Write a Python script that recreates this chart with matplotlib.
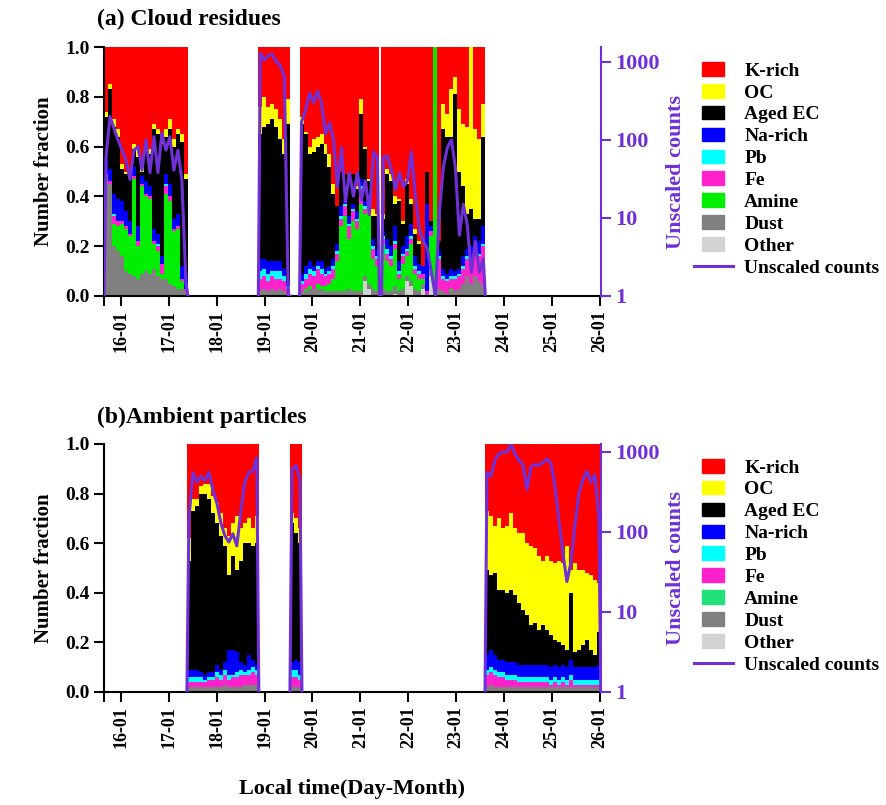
import numpy as np
import matplotlib
matplotlib.use('Agg')
import matplotlib.pyplot as plt
import matplotlib.patches as mpatches
from matplotlib.lines import Line2D
from matplotlib.legend_handler import HandlerPatch

plt.rcParams['font.family'] = ['Liberation Serif', 'DejaVu Serif']
plt.rcParams['font.weight'] = 'bold'
plt.rcParams['axes.labelweight'] = 'bold'

# species, stacked bottom -> top is the reverse of this list
species = ['K-rich', 'OC', 'Aged EC', 'Na-rich', 'Pb', 'Fe', 'Amine', 'Dust', 'Other']
colors_a = ['#FF0000', '#FFFF00', '#000000', '#0000FF', '#00FFFF', '#FF22CC', '#00EE00', '#808080', '#D3D3D3']
colors_b = ['#FF0000', '#FFFF00', '#000000', '#0000FF', '#00FFFF', '#FF22CC', '#22E07A', '#808080', '#D3D3D3']
purple = '#7030D8'

day_ticks = [16, 17, 18, 19, 20, 21, 22, 23, 24, 25, 26]
day_labels = ['16-01', '17-01', '18-01', '19-01', '20-01', '21-01', '22-01', '23-01', '24-01', '25-01', '26-01']
x_start, x_end = 15.65, 26.02
step = 1 / 12  # 2-hour bins (days)

# ---------------- (a) Cloud residues: 4 sampling segments ----------------
a_seg_start = [15.65, 18.87, 19.73, 21.44]
a_krich = [
    [0.26, 0.15, 0.29, 0.33, 0.47, 0.50, 0.50, 0.39, 0.41, 0.47, 0.39, 0.41, 0.31, 0.33, 0.37, 0.33, 0.29, 0.37, 0.33, 0.35, 0.51],
    [0.24, 0.20, 0.24, 0.23, 0.25, 0.29, 0.37, 0.21],
    [0.28, 0.34, 0.40, 0.37, 0.36, 0.35, 0.39, 0.43, 0.55, 0.64, 0.50, 0.51, 0.53, 0.51, 0.56, 0.21, 0.40, 0.53, 0.65, 0.67],
    [0.67, 0.49, 0.51, 0.60, 0.61, 0.70, 0.53, 0.61, 0.73, 0.78, 0.88, 0.50, 0.70, 0.00, 0.78, 0.23, 0.27, 0.17, 0.12, 0.25, 0.31, 0.32, 0.00, 0.33, 0.37, 0.23],
]
a_oc = [
    [0.02, 0.02, 0.03, 0.03, 0.02, 0.01, 0.02, 0.02, 0.03, 0.03, 0.02, 0.02, 0.02, 0.02, 0.02, 0.03, 0.04, 0.03, 0.02, 0.03, 0.02],
    [0.11, 0.12, 0.07, 0.06, 0.07, 0.08, 0.06, 0.10],
    [0.03, 0.01, 0.03, 0.05, 0.04, 0.04, 0.04, 0.05, 0.04, 0.00, 0.00, 0.00, 0.01, 0.00, 0.01, 0.06, 0.01, 0.01, 0.03, 0.01],
    [0.02, 0.02, 0.03, 0.03, 0.01, 0.01, 0.02, 0.02, 0.02, 0.01, 0.00, 0.00, 0.00, 0.00, 0.00, 0.10, 0.09, 0.19, 0.07, 0.25, 0.25, 0.35, 0.65, 0.36, 0.32, 0.13],
]
a_ec = [
    [0.17, 0.32, 0.27, 0.25, 0.13, 0.15, 0.18, 0.07, 0.28, 0.02, 0.13, 0.13, 0.40, 0.40, 0.45, 0.15, 0.22, 0.29, 0.32, 0.50, 0.38],
    [0.50, 0.53, 0.55, 0.57, 0.54, 0.49, 0.46, 0.63],
    [0.60, 0.53, 0.43, 0.46, 0.46, 0.47, 0.46, 0.40, 0.26, 0.15, 0.14, 0.10, 0.14, 0.12, 0.09, 0.26, 0.21, 0.05, 0.09, 0.13],
    [0.05, 0.26, 0.26, 0.09, 0.24, 0.09, 0.21, 0.08, 0.09, 0.08, 0.00, 0.13, 0.02, 0.00, 0.04, 0.56, 0.55, 0.53, 0.71, 0.39, 0.28, 0.14, 0.15, 0.07, 0.09, 0.36],
]
a_na = [
    [0.06, 0.05, 0.08, 0.09, 0.08, 0.06, 0.05, 0.04, 0.06, 0.03, 0.05, 0.04, 0.05, 0.04, 0.03, 0.04, 0.05, 0.04, 0.05, 0.05, 0.06],
    [0.05, 0.04, 0.05, 0.04, 0.04, 0.04, 0.03, 0.02],
    [0.03, 0.03, 0.03, 0.02, 0.02, 0.03, 0.02, 0.02, 0.03, 0.03, 0.04, 0.02, 0.03, 0.02, 0.03, 0.03, 0.02, 0.02, 0.03, 0.03],
    [0.02, 0.04, 0.04, 0.06, 0.04, 0.03, 0.05, 0.05, 0.04, 0.03, 0.03, 0.35, 0.02, 0.00, 0.02, 0.03, 0.02, 0.03, 0.02, 0.02, 0.04, 0.03, 0.06, 0.05, 0.05, 0.07],
]
a_pb = [
    [0.00, 0.00, 0.01, 0.00, 0.00, 0.00, 0.00, 0.00, 0.00, 0.00, 0.00, 0.00, 0.00, 0.01, 0.00, 0.01, 0.00, 0.00, 0.00, 0.00, 0.00],
    [0.03, 0.03, 0.03, 0.02, 0.03, 0.03, 0.02, 0.01],
    [0.01, 0.02, 0.02, 0.02, 0.01, 0.02, 0.01, 0.01, 0.01, 0.01, 0.01, 0.01, 0.01, 0.01, 0.01, 0.01, 0.01, 0.01, 0.01, 0.01],
    [0.01, 0.02, 0.01, 0.01, 0.01, 0.01, 0.01, 0.01, 0.01, 0.01, 0.00, 0.00, 0.00, 0.00, 0.01, 0.01, 0.01, 0.01, 0.01, 0.01, 0.01, 0.01, 0.01, 0.01, 0.01, 0.01],
]
a_fe = [
    [0.01, 0.01, 0.03, 0.02, 0.01, 0.01, 0.01, 0.01, 0.02, 0.01, 0.01, 0.01, 0.01, 0.02, 0.04, 0.03, 0.02, 0.01, 0.01, 0.01, 0.01],
    [0.05, 0.05, 0.04, 0.05, 0.05, 0.04, 0.04, 0.02],
    [0.03, 0.04, 0.05, 0.05, 0.06, 0.05, 0.04, 0.04, 0.04, 0.03, 0.03, 0.04, 0.05, 0.04, 0.03, 0.06, 0.02, 0.03, 0.04, 0.03],
    [0.02, 0.03, 0.03, 0.02, 0.02, 0.03, 0.02, 0.02, 0.02, 0.02, 0.02, 0.01, 0.02, 0.00, 0.12, 0.05, 0.05, 0.04, 0.05, 0.05, 0.06, 0.07, 0.08, 0.10, 0.10, 0.16],
]
a_amine = [
    [0.00, 0.00, 0.09, 0.10, 0.13, 0.17, 0.15, 0.39, 0.13, 0.35, 0.30, 0.30, 0.10, 0.10, 0.02, 0.34, 0.33, 0.22, 0.24, 0.03, 0.00],
    [0.00, 0.00, 0.00, 0.00, 0.00, 0.00, 0.00, 0.00],
    [0.00, 0.01, 0.01, 0.00, 0.02, 0.01, 0.02, 0.03, 0.05, 0.12, 0.26, 0.30, 0.20, 0.28, 0.25, 0.35, 0.25, 0.30, 0.12, 0.10],
    [0.18, 0.12, 0.10, 0.15, 0.05, 0.10, 0.08, 0.15, 0.06, 0.05, 0.02, 0.00, 0.14, 1.00, 0.00, 0.00, 0.00, 0.01, 0.00, 0.00, 0.00, 0.00, 0.00, 0.00, 0.00, 0.00],
]
a_dust = [
    [0.48, 0.45, 0.20, 0.18, 0.16, 0.10, 0.09, 0.08, 0.07, 0.09, 0.10, 0.09, 0.11, 0.08, 0.07, 0.07, 0.05, 0.04, 0.03, 0.03, 0.02],
    [0.02, 0.03, 0.02, 0.03, 0.02, 0.03, 0.02, 0.01],
    [0.02, 0.02, 0.03, 0.03, 0.03, 0.03, 0.02, 0.02, 0.02, 0.02, 0.02, 0.02, 0.03, 0.02, 0.02, 0.02, 0.02, 0.02, 0.03, 0.02],
    [0.03, 0.02, 0.02, 0.03, 0.02, 0.03, 0.02, 0.02, 0.03, 0.02, 0.02, 0.01, 0.02, 0.00, 0.03, 0.02, 0.01, 0.02, 0.02, 0.03, 0.05, 0.08, 0.05, 0.08, 0.06, 0.04],
]
a_other = [
    [0.00] * 21,
    [0.00] * 8,
    [0, 0, 0, 0, 0, 0, 0, 0, 0, 0, 0, 0, 0, 0, 0, 0, 0.06, 0.03, 0, 0],
    [0, 0, 0, 0.01, 0, 0, 0.06, 0.04, 0, 0, 0.03, 0, 0.08, 0, 0, 0, 0, 0, 0, 0, 0, 0, 0, 0, 0, 0],
]
a_counts = [
    [60, 200, 140, 100, 75, 55, 31, 74, 82, 41, 100, 38, 110, 38, 123, 74, 110, 41, 74, 30, 1.5],
    [1300, 1050, 1200, 1250, 1000, 900, 650, 1],
    [170, 240, 400, 300, 420, 300, 120, 165, 100, 25, 80, 16, 38, 19, 38, 17, 30, 11, 70, 60],
    [60, 62, 41, 23, 38, 25, 30, 71, 19, 7, 5, 4, 2, 1, 12, 45, 80, 100, 45, 6, 15, 8, 2, 5, 2, 3],
]

# ---------------- (b) Ambient particles: 3 sampling segments ----------------
b_seg_start = [17.38, 19.53, 23.60]
b_krich = [
    [0.38, 0.22, 0.22, 0.17, 0.16, 0.16, 0.21, 0.24, 0.28, 0.34, 0.37, 0.32, 0.29, 0.34, 0.32, 0.30, 0.34, 0.29],
    [0.28, 0.30, 0.34],
    [0.27, 0.29, 0.33, 0.30, 0.34, 0.33, 0.28, 0.34, 0.36, 0.36, 0.40, 0.41, 0.42, 0.45, 0.47, 0.45, 0.47, 0.48, 0.47, 0.48, 0.41, 0.51, 0.48, 0.51, 0.51, 0.52, 0.53, 0.55, 0.56],
]
b_oc = [
    [0.09, 0.05, 0.03, 0.03, 0.04, 0.06, 0.07, 0.08, 0.09, 0.07, 0.16, 0.13, 0.22, 0.13, 0.08, 0.10, 0.07, 0.11],
    [0.04, 0.06, 0.06],
    [0.24, 0.24, 0.19, 0.29, 0.25, 0.27, 0.31, 0.27, 0.28, 0.31, 0.29, 0.32, 0.30, 0.30, 0.26, 0.30, 0.30, 0.31, 0.33, 0.33, 0.42, 0.09, 0.36, 0.32, 0.30, 0.27, 0.30, 0.30, 0.20],
]
b_ec = [
    [0.44, 0.64, 0.66, 0.72, 0.73, 0.70, 0.64, 0.57, 0.54, 0.47, 0.30, 0.38, 0.33, 0.41, 0.49, 0.45, 0.46, 0.49],
    [0.56, 0.51, 0.48],
    [0.34, 0.30, 0.33, 0.28, 0.28, 0.28, 0.29, 0.27, 0.25, 0.22, 0.20, 0.16, 0.17, 0.14, 0.16, 0.14, 0.13, 0.10, 0.10, 0.08, 0.07, 0.27, 0.06, 0.07, 0.09, 0.11, 0.07, 0.05, 0.13],
]
b_na = [
    [0.03, 0.03, 0.03, 0.02, 0.02, 0.02, 0.02, 0.03, 0.02, 0.03, 0.10, 0.10, 0.08, 0.03, 0.03, 0.06, 0.03, 0.02],
    [0.03, 0.04, 0.05],
    [0.06, 0.07, 0.06, 0.05, 0.05, 0.05, 0.05, 0.05, 0.05, 0.05, 0.05, 0.05, 0.05, 0.05, 0.05, 0.05, 0.05, 0.05, 0.05, 0.05, 0.05, 0.06, 0.05, 0.05, 0.05, 0.05, 0.05, 0.05, 0.06],
]
b_pb = [
    [0.02, 0.02, 0.02, 0.02, 0.01, 0.01, 0.01, 0.02, 0.02, 0.02, 0.02, 0.01, 0.02, 0.02, 0.01, 0.02, 0.02, 0.02],
    [0.03, 0.03, 0.02],
    [0.02] * 29,
]
b_fe = [
    [0.02, 0.02, 0.02, 0.02, 0.02, 0.03, 0.03, 0.04, 0.03, 0.04, 0.03, 0.04, 0.04, 0.05, 0.04, 0.04, 0.05, 0.04],
    [0.04, 0.04, 0.03],
    [0.05, 0.05, 0.05, 0.04, 0.04, 0.03, 0.03, 0.03, 0.02, 0.02, 0.02, 0.02, 0.02, 0.02, 0.02, 0.02, 0.01, 0.02, 0.01, 0.02, 0.01, 0.03, 0.01, 0.01, 0.01, 0.01, 0.01, 0.01, 0.01],
]
b_amine = [[0.00] * 18, [0.00] * 3, [0.00] * 29]
b_dust = [
    [0.02, 0.02, 0.02, 0.02, 0.02, 0.02, 0.02, 0.02, 0.02, 0.03, 0.02, 0.02, 0.02, 0.02, 0.03, 0.03, 0.03, 0.03],
    [0.02, 0.02, 0.02],
    [0.02, 0.03] + [0.02] * 27,
]
b_other = [[0.00] * 18, [0.00] * 3, [0.00] * 29]
b_counts = [
    [150, 550, 420, 500, 440, 560, 330, 230, 130, 90, 75, 95, 67, 180, 420, 560, 580, 850],
    [600, 680, 450],
    [550, 500, 800, 950, 1000, 1000, 1250, 950, 780, 700, 340, 650, 700, 680, 740, 820, 720, 380, 140, 55, 24, 41, 120, 300, 450, 580, 420, 520, 150],
]


def small_box(legend, orig_handle, xdescent, ydescent, width, height, fontsize):
    w = width * 0.58
    return mpatches.Rectangle((-xdescent + (width - w) / 2, -ydescent), w, height)


def draw_panel(ax, starts, layers, counts, cmax, colors):
    # layers are given top -> bottom, stack from the bottom
    for k, t0 in enumerate(starts):
        n = len(layers[0][k])
        edges = t0 + np.arange(n + 1) * step
        base = np.zeros(n)
        for lay, col in zip(layers[::-1], colors[::-1]):
            vals = np.array(lay[k], dtype=float)
            top = base + vals
            ax.fill_between(edges, np.append(base, base[-1]), np.append(top, top[-1]),
                            step='post', color=col, linewidth=0)
            base = top
    ax.set_xlim(x_start, x_end)
    ax.set_ylim(0, 1.0)
    ax.set_yticks([0, 0.2, 0.4, 0.6, 0.8, 1.0])
    ax.set_yticklabels(['0.0', '0.2', '0.4', '0.6', '0.8', '1.0'], fontsize=14)
    ax.set_xticks([x_start] + day_ticks)
    ax.set_xticklabels([''] + day_labels, rotation=90, fontsize=13)
    ax.tick_params(axis='both', direction='out', width=1.5, length=7)
    ax.set_ylabel('Number fraction', fontsize=15, labelpad=8)
    for s in ['top', 'right']:
        ax.spines[s].set_visible(False)
    for s in ['left', 'bottom']:
        ax.spines[s].set_linewidth(1.5)

    ax2 = ax.twinx()
    for k, t0 in enumerate(starts):
        n = len(counts[k])
        centers = t0 + (np.arange(n) + 0.5) * step
        xs = np.concatenate([[t0], centers, [t0 + n * step]])
        ys = np.concatenate([[1], counts[k], [1]])
        ax2.plot(xs, ys, color=purple, linewidth=2.2)
    ax2.set_yscale('log')
    ax2.set_ylim(1, cmax)
    ax2.set_xlim(x_start, x_end)
    ax2.set_yticks([1, 10, 100, 1000])
    ax2.set_yticklabels(['1', '10', '100', '1000'], fontsize=16, color=purple)
    ax2.minorticks_off()
    ax2.tick_params(axis='y', colors=purple, width=1.5, length=7)
    for s in ['top', 'left', 'bottom']:
        ax2.spines[s].set_visible(False)
    ax2.spines['right'].set_color(purple)
    ax2.spines['right'].set_linewidth(1.5)
    ax2.set_ylabel('Unscaled counts', fontsize=16, color=purple, labelpad=4)


fig = plt.figure(figsize=(8.86, 8.05), dpi=100)
ax_a = fig.add_axes([0.1174, 0.6323, 0.5609, 0.3093])
ax_b = fig.add_axes([0.1174, 0.1404, 0.5609, 0.3081])

draw_panel(ax_a, a_seg_start,
           [a_krich, a_oc, a_ec, a_na, a_pb, a_fe, a_amine, a_dust, a_other],
           a_counts, 1550, colors_a)
draw_panel(ax_b, b_seg_start,
           [b_krich, b_oc, b_ec, b_na, b_pb, b_fe, b_amine, b_dust, b_other],
           b_counts, 1260, colors_b)
ax_b.set_xlabel('Local time(Day-Month)', fontsize=16, labelpad=22)

fig.text(0.109, 0.976, '(a) Cloud residues', fontsize=17, va='center', ha='left')
fig.text(0.109, 0.482, '(b)Ambient particles', fontsize=17, va='center', ha='left')

for ytop, cols in [(0.935, colors_a), (0.442, colors_b)]:
    handles = [mpatches.Patch(color=c, label=s) for s, c in zip(species, cols)]
    handles.append(Line2D([], [], color=purple, linewidth=2.2, label='Unscaled counts'))
    fig.legend(handles=handles, loc='upper left', bbox_to_anchor=(0.772, ytop),
               frameon=False, fontsize=14, labelspacing=0.22, handlelength=2.0,
               handletextpad=0.6, borderpad=0,
               handler_map={mpatches.Patch: HandlerPatch(patch_func=small_box)})

fig.savefig('out.png', dpi=100)
